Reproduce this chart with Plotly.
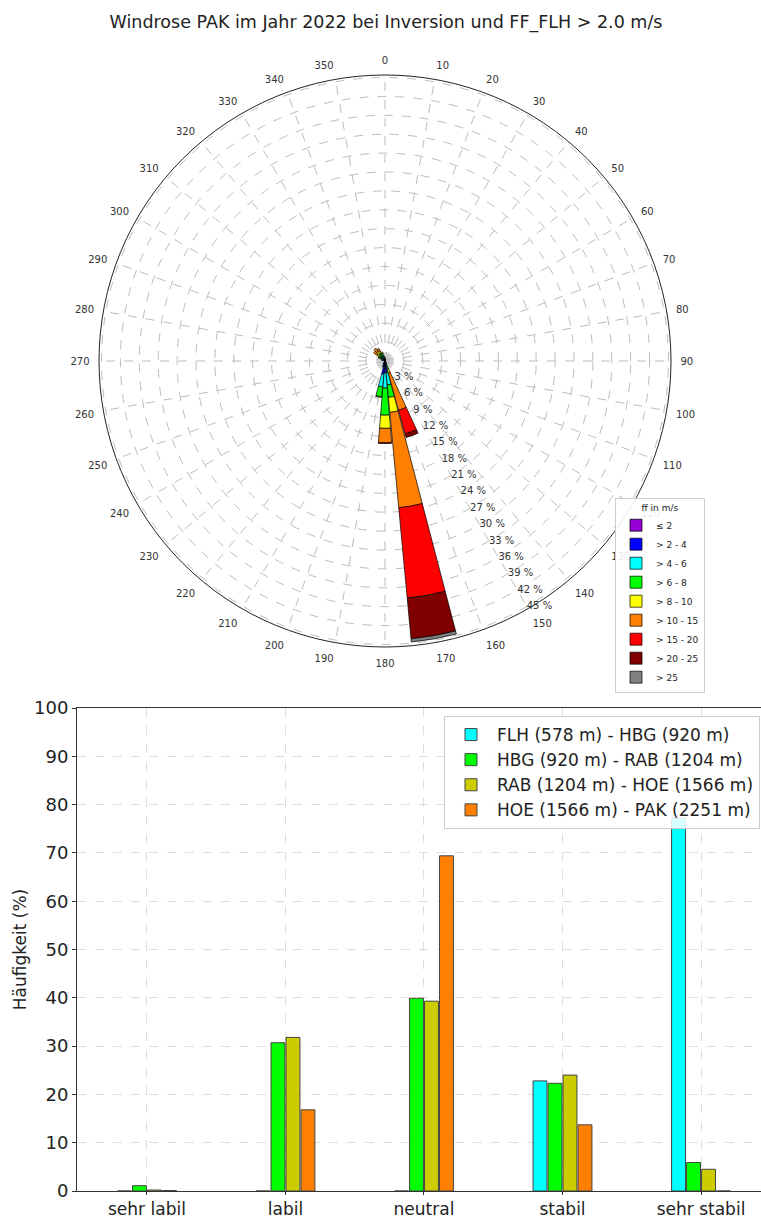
import plotly.graph_objects as go

# ---------------- Windrose data ----------------
title_text = "Windrose PAK im Jahr 2022 bei Inversion und FF_FLH > 2.0 m/s"
directions = [0, 10, 150, 160, 170, 180, 190, 200, 210, 290, 300, 310, 320, 330, 340, 350]
speed_labels = ["≤ 2", "> 2 - 4", "> 4 - 6", "> 6 - 8", "> 8 - 10",
                "> 10 - 15", "> 15 - 20", "> 20 - 25", "> 25"]
speed_colors = ["#9400D3", "#0000FF", "#00FFFF", "#00FF00", "#FFFF00",
                "#FF8000", "#FF0000", "#800000", "#808080"]
#            0    10   150  160  170   180  190  200  210  290  300  310  320  330  340  350
ff_le2   = [0.2, 0.2, 0.2, 0.2, 0.4,  0.6, 0.5, 0.3, 0.2, 0.1, 0.1, 0.2, 0.2, 0.2, 0.2, 0.2]
ff_2_4   = [0.3, 0.1, 0.2, 0.3, 1.4,  1.3, 1.6, 0.5, 0.3, 0.2, 0.2, 0.3, 0.3, 0.3, 0.3, 0.3]
ff_4_6   = [0.0, 0.0, 0.1, 0.4, 2.0,  2.4, 2.0, 0.2, 0.0, 0.2, 0.2, 0.3, 0.4, 0.4, 0.4, 0.3]
ff_6_8   = [0.0, 0.0, 0.0, 0.5, 2.0,  4.3, 1.6, 0.0, 0.0, 0.1, 0.3, 0.4, 0.5, 0.5, 0.4, 0.0]
ff_8_10  = [0.0, 0.0, 0.0, 0.6, 2.4,  2.1, 0.1, 0.0, 0.0, 0.0, 0.2, 0.4, 0.5, 0.4, 0.2, 0.0]
ff_10_15 = [0.0, 0.0, 0.0, 6.1, 15.2, 2.3, 0.0, 0.0, 0.0, 0.0, 0.2, 0.6, 0.6, 0.4, 0.0, 0.0]
ff_15_20 = [0.0, 0.0, 0.0, 3.9, 14.4, 0.1, 0.0, 0.0, 0.0, 0.0, 0.0, 0.0, 0.0, 0.0, 0.0, 0.0]
ff_20_25 = [0.0, 0.0, 0.0, 0.6, 6.5,  0.0, 0.0, 0.0, 0.0, 0.0, 0.0, 0.0, 0.0, 0.0, 0.0, 0.0]
ff_gt25  = [0.0, 0.0, 0.0, 0.0, 0.5,  0.0, 0.0, 0.0, 0.0, 0.0, 0.0, 0.0, 0.0, 0.0, 0.0, 0.0]
speed_bins = [ff_le2, ff_2_4, ff_4_6, ff_6_8, ff_8_10, ff_10_15, ff_15_20, ff_20_25, ff_gt25]

angle_ticks = list(range(0, 360, 10))
angle_ticktext = [str(a) for a in angle_ticks]
radial_ticks = [3, 6, 9, 12, 15, 18, 21, 24, 27, 30, 33, 36, 39, 42, 45]
radial_ticktext = [f"{v} %" for v in radial_ticks]
radial_max = 45.4
radial_label_angle = 150

# ---------------- Bar chart data ----------------
stability = ["sehr labil", "labil", "neutral", "stabil", "sehr stabil"]
layer_names = ["FLH (578 m) - HBG (920 m)", "HBG (920 m) - RAB (1204 m)",
               "RAB (1204 m) - HOE (1566 m)", "HOE (1566 m) - PAK (2251 m)"]
layer_colors = ["#00FFFF", "#00FF00", "#CCCC00", "#FF8000"]
flh_hbg = [0.0, 0.0, 0.0, 22.8, 77.2]
hbg_rab = [1.1, 30.7, 39.9, 22.3, 5.9]
rab_hoe = [0.2, 31.8, 39.3, 24.0, 4.5]
hoe_pak = [0.1, 16.8, 69.4, 13.7, 0.0]
layer_values = [flh_hbg, hbg_rab, rab_hoe, hoe_pak]

W, H = 761, 1216
FONT = "DejaVu Sans"

fig = go.Figure()

for vals, lab, col in zip(speed_bins, speed_labels, speed_colors):
    fig.add_trace(go.Barpolar(
        r=vals, theta=directions, width=9.3, name=lab,
        marker=dict(color=col, line=dict(color="black", width=0.7)),
        legend="legend", subplot="polar",
    ))

fig.add_trace(go.Scatterpolar(
    r=radial_ticks, theta=[radial_label_angle] * len(radial_ticks),
    text=radial_ticktext, mode="text", textposition="middle right",
    textfont=dict(size=10, color="#333333", family=FONT),
    showlegend=False, hoverinfo="skip", subplot="polar",
))

for vals, name, col in zip(layer_values, layer_names, layer_colors):
    fig.add_trace(go.Bar(
        x=stability, y=vals, name=name,
        marker=dict(color=col, line=dict(color="#444444", width=1)),
        legend="legend2", xaxis="x", yaxis="y",
    ))

fig.update_layout(
    width=W, height=H,
    margin=dict(l=0, r=0, t=0, b=0, autoexpand=False),
    paper_bgcolor="white", plot_bgcolor="white",
    font=dict(family=FONT, color="#222222"),
    title=dict(text=title_text, x=386 / W, xanchor="center",
               y=1 - 22 / H, yanchor="middle",
               font=dict(size=17.5, family=FONT, color="#222222")),
    polar=dict(
        domain=dict(x=[99 / W, 671 / W], y=[1 - 647 / H, 1 - 75 / H]),
        bgcolor="white",
        barmode="stack",
        angularaxis=dict(
            rotation=90, direction="clockwise",
            tickmode="array", tickvals=angle_ticks, ticktext=angle_ticktext,
            tickfont=dict(size=10, color="#333333", family=FONT),
            ticks="outside", ticklen=7, tickcolor="rgba(0,0,0,0)",
            showline=True, linecolor="#222222", linewidth=1,
            showgrid=True, gridcolor="#bdbdbd", griddash="dash", gridwidth=1,
        ),
        radialaxis=dict(
            range=[0, radial_max], tickmode="array", tickvals=radial_ticks,
            showticklabels=False, ticks="", showline=False,
            showgrid=True, gridcolor="#bdbdbd", griddash="dash", gridwidth=1,
        ),
    ),
    legend=dict(
        title=dict(text="ff in m/s", side="top center",
                   font=dict(size=9, family=FONT, color="#222222")),
        x=615 / W, xanchor="left", y=1 - 498 / H, yanchor="top",
        font=dict(size=9, family=FONT, color="#222222"),
        bgcolor="rgba(255,255,255,0.9)", bordercolor="#cccccc", borderwidth=1,
        tracegroupgap=0, itemwidth=30,
    ),
    legend2=dict(
        x=444 / W, xanchor="left", y=1 - 716 / H, yanchor="top",
        font=dict(size=17, family=FONT, color="#222222"),
        bgcolor="rgba(255,255,255,0.85)", bordercolor="#cccccc", borderwidth=1,
        itemwidth=42,
    ),
    barmode="group", bargap=0.567, bargroupgap=0.074,
    xaxis=dict(
        domain=[77 / W, 1.0], anchor="y", automargin=False,
        range=[-0.505, 4.433],
        showgrid=True, gridcolor="#dddddd", griddash="dash",
        showline=True, linecolor="#333333", mirror=True,
        ticks="outside", ticklen=3, tickcolor="#333333",
        tickfont=dict(size=17, family=FONT, color="#222222"),
    ),
    yaxis=dict(
        domain=[1 - 1191 / H, 1 - 708 / H], anchor="x", automargin=False,
        range=[0, 100], dtick=10,
        showgrid=True, gridcolor="#dddddd", griddash="dash",
        showline=True, linecolor="#333333",
        ticks="outside", ticklen=4, tickcolor="#333333",
        tickfont=dict(size=18, family=FONT, color="#222222"),
        title=dict(text="Häufigkeit (%)", font=dict(size=17, family=FONT, color="#222222"),
                   standoff=3),
        zeroline=False,
    ),
)

fig.write_html(
    "out.html",
    config={"displayModeBar": False},
    post_script="document.body.style.margin='0px';document.body.style.overflow='hidden';"
                "document.documentElement.style.overflow='hidden';",
)
